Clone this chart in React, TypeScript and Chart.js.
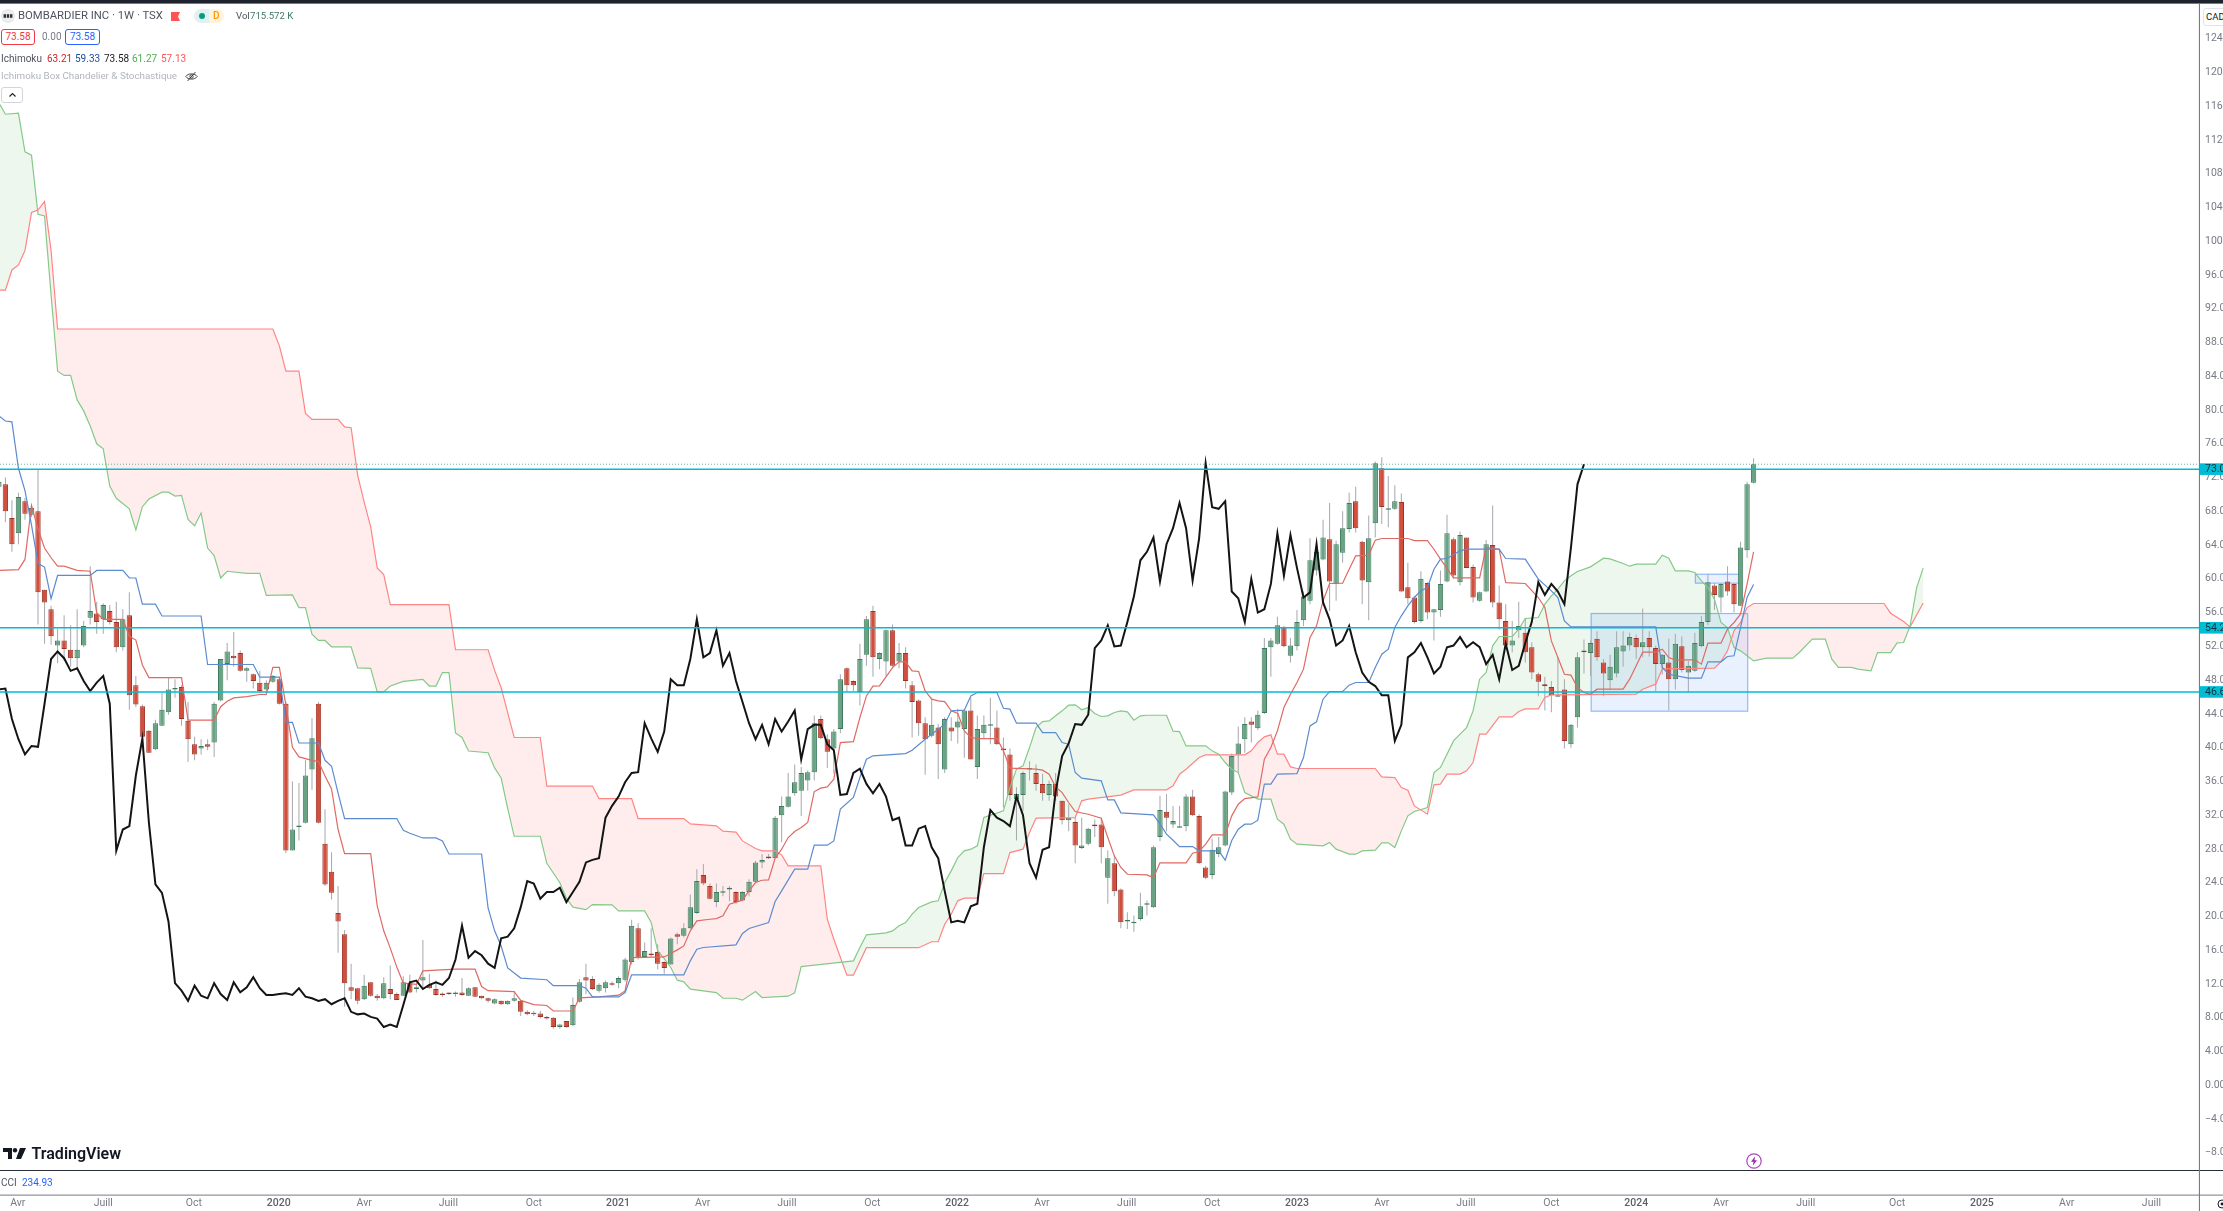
import React, { useEffect, useRef } from "react";
import { Chart, registerables } from "chart.js";

Chart.register(...registerables);

const firstBar = -1;
const opens = [70.9,
71.2,67.2,65.4,69.2,67.6,68.0,58.7,56.4,52.1,52.7,
51.6,50.6,52.1,55.4,55.9,55.2,56.2,54.9,51.9,55.7,
47.4,44.9,42.0,39.8,42.6,44.2,46.9,47.2,43.2,40.4,
39.9,40.4,40.6,45.6,49.9,50.9,51.2,49.1,48.7,47.7,
46.9,47.8,48.1,45.2,27.8,30.6,31.1,37.4,45.2,28.6,
25.3,20.4,17.9,11.6,11.5,10.2,12.2,10.6,10.3,11.4,
10.8,10.6,12.1,11.4,12.4,11.9,11.4,10.8,10.9,10.8,
11.0,10.6,11.6,10.6,10.3,9.7,10.0,9.6,10.0,10.0,
8.7,8.4,8.5,8.1,8.0,6.9,7.6,7.1,9.9,12.8,
12.6,11.2,11.5,12.1,12.1,12.5,14.6,18.6,15.2,15.6,
15.8,14.6,14.3,17.9,17.7,18.6,20.4,24.9,23.6,21.7,
22.8,23.2,22.9,21.9,22.9,24.1,26.4,27.1,26.9,32.0,
33.0,34.6,34.9,36.1,37.1,43.4,41.0,39.9,42.2,49.4,
47.9,46.6,51.0,56.2,50.5,50.2,53.9,50.2,51.2,47.4,
45.6,42.9,41.4,42.4,37.4,42.4,42.4,42.2,44.4,37.7,
41.7,42.6,42.4,39.9,39.2,33.9,34.4,37.4,37.0,35.7,
34.4,35.7,33.7,31.4,31.2,28.1,28.6,30.9,30.9,24.6,
26.3,23.2,19.4,19.2,19.7,21.4,21.1,29.4,32.4,30.9,
30.5,30.7,34.2,31.9,25.8,24.9,27.4,28.4,34.7,39.2,
41.0,43.1,42.3,44.1,51.9,52.3,54.3,50.9,52.0,55.1,
57.4,61.0,62.3,64.7,59.4,63.1,65.9,69.2,64.4,59.6,
66.6,73.1,68.2,68.3,69.1,59.0,57.8,55.0,59.5,56.0,
56.3,59.7,64.7,59.6,64.9,61.4,57.4,58.5,64.0,57.2,
55.0,52.1,53.9,53.6,51.9,48.7,47.5,47.2,46.2,46.9,
40.4,43.6,51.5,51.2,52.9,50.1,48.0,48.8,51.4,52.1,
53.0,51.9,53.0,51.8,49.9,50.1,48.1,52.0,48.9,49.1,
52.0,54.9,59.2,57.8,59.7,59.4,56.8,63.4,71.4];

const highs = [72.0,
72.0,69.3,70.2,69.6,68.7,73.0,58.7,56.8,54.1,55.7,
54.5,56.4,55.0,61.5,57.3,57.1,56.9,57.3,56.4,58.4,
48.5,45.1,42.1,43.3,46.5,48.3,48.1,47.4,45.4,41.3,
41.0,41.0,45.4,50.5,52.4,53.7,51.5,49.6,48.8,49.1,
48.0,48.6,48.3,45.4,36.0,35.8,38.5,43.5,45.4,32.7,
27.6,23.6,18.4,14.4,11.5,13.1,12.2,10.8,12.8,14.2,
11.0,12.9,13.1,12.0,17.2,13.2,12.4,11.0,11.0,11.1,
12.7,11.6,11.6,10.6,10.4,10.3,10.05,10.05,11.0,10.0,
8.9,8.8,8.8,8.2,8.1,7.3,7.6,10.4,12.6,14.4,
12.9,12.1,12.4,12.3,12.9,15.1,19.6,19.2,16.9,18.6,
16.7,14.7,17.5,18.1,19.2,22.6,25.6,26.2,23.9,23.9,
23.6,23.6,23.0,23.0,24.4,26.6,27.4,27.4,31.9,34.2,
37.0,38.0,37.7,37.3,43.8,43.8,41.6,42.2,48.7,49.5,
48.0,52.3,55.6,56.8,51.3,54.0,54.6,52.4,51.9,47.9,
45.7,43.6,45.9,42.8,43.6,43.6,44.6,44.6,45.9,43.8,
43.8,45.9,44.4,41.2,39.9,35.3,37.2,38.4,38.0,36.9,
36.1,37.0,33.7,33.3,31.7,31.7,30.5,31.5,31.7,27.8,
27.2,23.3,20.5,20.1,22.8,21.9,28.4,34.3,34.5,33.1,
33.1,34.5,35.0,32.1,26.0,29.2,29.4,34.9,39.3,42.5,
43.6,43.6,44.4,53.0,53.0,55.5,54.4,53.0,56.3,58.5,
64.8,64.3,67.0,69.0,64.5,68.0,70.2,70.9,64.5,67.5,
73.9,74.4,72.2,71.1,70.1,61.9,58.0,60.9,59.6,56.4,
61.0,67.6,64.9,65.6,64.9,61.7,58.5,64.6,68.7,59.2,
57.0,55.0,57.3,55.4,52.5,48.9,48.4,47.9,50.7,48.1,
42.8,51.3,52.8,52.7,53.8,50.5,51.0,53.8,53.8,53.6,
53.4,56.5,53.8,52.1,51.1,52.9,53.5,53.2,50.3,53.6,
55.6,60.6,59.5,59.5,61.5,59.5,64.4,71.5,74.3];

const lows = [70.7,
66.7,63.2,64.1,67.0,67.3,54.6,52.3,52.2,50.0,50.3,
49.6,49.4,51.9,54.6,53.5,53.5,54.6,51.3,51.5,44.5,
44.8,41.2,39.4,39.7,42.6,43.9,45.9,42.6,38.3,38.5,
39.2,39.7,38.9,45.5,48.0,49.6,49.0,47.8,47.0,46.5,
46.4,47.7,45.1,27.5,27.8,29.0,31.0,35.0,31.0,23.6,
22.0,15.7,9.3,10.2,9.6,10.1,10.5,10.0,10.2,10.2,
10.1,10.6,10.9,11.0,11.4,11.4,10.6,10.5,10.7,10.5,
10.6,10.6,10.5,10.2,9.8,9.6,9.5,9.5,9.9,8.2,
8.3,8.2,7.9,7.8,6.7,6.7,6.8,7.0,9.8,10.8,
11.3,11.0,11.0,11.8,11.5,12.3,14.3,14.9,15.1,15.2,
13.7,13.2,14.3,16.7,17.5,18.5,20.3,23.7,22.0,21.1,
22.4,21.8,21.5,21.8,22.4,24.0,25.7,26.8,26.9,28.8,
32.9,34.3,31.9,34.9,36.1,41.0,37.6,36.9,41.7,46.6,
46.7,45.0,49.7,48.4,49.3,48.5,49.6,49.4,47.0,41.2,
41.4,36.8,41.2,36.3,37.0,40.8,40.5,38.8,38.6,36.3,
41.1,40.4,40.3,32.9,33.7,29.0,32.5,36.1,34.9,33.7,
33.7,33.7,30.9,30.1,26.3,28.0,28.4,29.4,26.3,21.5,
22.4,18.6,18.5,18.2,19.5,20.1,21.0,28.9,30.1,30.5,
30.5,30.1,31.9,26.2,24.4,24.4,27.0,28.3,34.4,37.1,
39.4,40.6,42.1,44.0,48.4,52.2,51.9,50.1,51.5,54.4,
57.0,60.4,62.2,56.2,57.4,61.9,65.5,65.5,57.0,55.1,
64.9,66.5,66.1,68.2,58.4,57.0,54.7,54.8,55.2,52.7,
55.5,59.6,60.0,59.2,61.3,57.2,57.3,58.4,56.6,54.0,
51.9,51.3,53.0,50.1,48.1,46.1,44.4,44.2,46.1,39.9,
40.0,42.4,48.8,48.5,50.3,46.1,46.9,48.3,49.6,51.5,
50.5,50.7,50.8,46.7,48.7,44.4,46.9,48.9,46.6,49.0,
51.9,54.5,56.3,56.0,58.0,56.0,56.8,62.5,71.3];

const closes = [71.5,
68.0,64.1,69.7,67.7,68.4,58.4,57.2,53.2,52.7,51.7,
50.6,51.6,54.4,56.2,54.9,56.9,54.9,51.9,55.2,46.2,
45.1,41.3,39.4,42.9,44.5,46.9,47.0,43.4,41.0,39.2,
40.2,40.1,45.2,50.5,51.4,50.6,49.1,49.4,47.9,46.7,
47.7,48.5,45.2,27.8,30.3,30.7,36.7,41.1,31.1,23.8,
22.8,19.4,12.1,11.2,10.0,11.8,10.6,10.3,12.1,10.8,
10.1,12.2,11.0,11.6,12.8,11.5,10.7,10.7,10.8,10.9,
10.7,11.5,10.5,10.3,10.0,10.2,9.6,10.0,10.3,8.7,
8.4,8.5,8.1,7.9,6.9,7.2,6.9,9.5,12.2,12.4,
11.4,11.9,12.2,11.9,12.7,14.9,18.9,15.1,15.9,15.4,
14.4,13.9,17.4,17.6,18.6,21.1,24.2,23.9,22.1,22.9,
22.9,23.4,21.7,22.9,24.1,26.4,26.7,26.9,31.7,33.1,
34.2,35.9,37.0,37.1,42.9,41.1,39.5,41.9,48.1,47.4,
47.4,50.5,55.2,50.7,51.2,53.9,49.7,51.2,47.9,45.4,
42.9,41.0,42.7,40.4,43.4,41.9,43.1,44.4,38.6,42.2,
42.7,42.7,40.4,39.7,34.4,34.5,37.0,37.5,35.7,34.6,
35.7,34.2,31.4,31.7,28.4,28.4,30.4,30.7,28.2,26.9,
23.0,19.3,19.5,19.3,21.2,21.5,28.2,32.6,31.7,31.3,
30.7,34.2,32.0,26.3,24.6,27.9,28.2,34.8,39.0,40.5,
42.8,42.7,43.9,51.8,52.7,54.5,52.0,52.1,54.9,57.9,
62.2,63.2,64.9,59.7,64.1,66.0,69.0,66.0,59.8,64.8,
73.7,68.5,68.3,69.2,58.5,57.7,54.9,60.0,56.0,56.4,
59.4,65.4,60.4,65.2,61.3,57.8,58.4,64.1,57.2,55.2,
52.1,52.7,54.4,51.3,48.9,47.8,47.3,46.2,46.2,40.8,
42.7,50.7,51.3,52.4,50.7,48.8,49.6,51.9,52.1,53.1,
51.9,52.5,51.9,49.9,51.0,48.1,52.3,49.2,49.7,52.4,
54.9,59.6,58.1,59.4,58.5,57.0,63.7,71.2,73.58];

const chikouShift = 26;

const spanA: number[][] = [[-0.83,116.2],[0,115.05],[2,115.17],[3,110.6],[4,110.2],[5,103.2],[6,103.0],[7,93.7],[8,84.6],[9,84.1],[10,84.1],[11,81.2],[12,79.9],[13,78.1],[14,76.0],[15,75.4],[16,71.0],[17,69.55],[19,68.3],[20,65.8],[21,68.55],[22,69.45],[24,70.27],[25,70.27],[26,69.8],[27,69.9],[28,67.05],[29,66.3],[30,67.8],[31,63.65],[32,62.75],[33,60.1],[34,60.9],[37,60.65],[39,60.65],[40,58.05],[44,58.1],[45,56.6],[46,56.6],[47,53.45],[48,52.7],[49,52.7],[50,51.95],[53,51.95],[54,49.45],[56,49.4],[57,46.6],[58,46.6],[59,47.3],[61,47.85],[64,48.1],[65,47.3],[66,47.3],[67,48.9],[68,48.9],[69,41.75],[70,41.2],[71,39.6],[74,39.4],[75,37.6],[76,36.4],[77,32.8],[78,29.5],[82,29.5],[83,26.3],[85,24.0],[86,22.15],[87,21.1],[89,20.8],[90,21.4],[93,21.37],[94,20.66],[98,20.66],[99,19.28],[100,15.92],[101,15.0],[102,13.95],[103,12.45],[104,12.25],[105,11.38],[109,10.98],[110,10.31],[112,10.31],[113,10.08],[115,11.1],[116,10.39],[120,10.55],[121,10.95],[122,14.06],[123,14.15],[130,14.74],[131,16.32],[132,17.82],[135,18.05],[136,18.29],[137,18.89],[138,19.28],[139,20.27],[140,21.06],[142,21.73],[143,21.85],[144,24.02],[145,25.4],[146,26.98],[147,27.77],[148,27.97],[149,28.36],[150,31.72],[153,32.51],[154,35.27],[155,37.45],[156,37.84],[157,40.01],[158,42.38],[159,43.09],[160,43.17],[161,43.77],[162,44.36],[163,45.03],[164,45.07],[165,44.48],[166,44.75],[167,44.04],[168,43.69],[169,43.77],[170,44.16],[171,44.36],[172,44.24],[173,43.25],[174,43.77],[175,43.84],[178,43.84],[179,41.95],[180,41.91],[181,40.21],[184,40.21],[185,39.62],[186,39.23],[187,38.24],[188,37.45],[189,37.05],[190,34.68],[191,34.29],[192,33.89],[194,33.89],[195,31.53],[196,30.93],[197,29.15],[198,28.56],[202,28.37],[203,28.76],[204,27.97],[206,27.38],[207,27.38],[208,27.77],[210,27.85],[211,28.72],[212,28.72],[213,28.17],[214,30.14],[215,31.92],[216,32.43],[218,32.91],[219,37.05],[220,37.65],[222,40.8],[223,41.6],[224,42.38],[225,44.36],[226,48.11],[227,48.9],[228,52.06],[229,53.17],[231,53.17],[232,54.04],[233,55.3],[235,55.42],[236,57.0],[237,57.99],[238,58.78],[239,59.76],[240,60.36],[241,60.87],[243,61.42],[244,61.93],[245,62.45],[246,62.37],[248,61.82],[249,61.5],[250,61.74],[253,61.74],[254,62.8],[255,62.45],[256,60.95],[258,60.95],[259,60.75],[260,59.76],[261,58.97],[262,57.59],[263,54.83],[264,54.23],[265,51.86],[266,51.47],[267,50.88],[268,50.28],[270,50.6],[274,50.6],[275,51.27],[277,52.85],[279,52.85],[280,50.48],[281,49.5],[283,49.5],[284,49.3],[286,49.1],[287,51.27],[289,51.27],[290,52.42],[291,52.46],[292,54.43],[293,58.97],[294,61.27]];

const spanB: number[][] = [[-0.83,94.2],[0,94.2],[1,96.6],[2,97.2],[3,98.9],[4,103.4],[5,103.7],[6,104.7],[7,98.9],[8,89.6],[41,89.6],[42,87.6],[43,84.6],[45,84.6],[46,79.6],[47,78.9],[51,78.9],[52,78.0],[53,77.9],[54,72.3],[55,69.1],[56,66.15],[57,61.3],[58,60.5],[59,56.95],[68,56.95],[69,51.6],[74,51.6],[75,49.15],[76,47.1],[77,44.15],[78,41.2],[82,41.2],[83,35.45],[90,35.45],[91,33.97],[96,33.97],[97,31.6],[104,31.6],[105,30.97],[109,30.73],[110,30.1],[112,30.0],[113,28.95],[115,28.05],[116,27.77],[118,27.77],[119,27.3],[120,26.0],[125,26.0],[126,19.67],[127,17.3],[129,13.04],[130,13.04],[132,16.3],[140,16.3],[142,17.0],[143,17.0],[144,19.08],[145,20.27],[146,21.85],[147,22.16],[149,22.16],[150,25.08],[153,25.08],[154,27.57],[156,27.97],[157,29.94],[158,31.64],[164,31.72],[165,33.7],[166,33.9],[171,34.37],[173,35.0],[178,35.0],[179,35.47],[180,36.85],[181,37.45],[183,38.83],[184,39.15],[190,39.15],[191,39.62],[192,40.61],[193,41.28],[194,41.52],[195,39.23],[196,39.23],[197,37.72],[198,37.53],[210,37.53],[211,36.54],[213,36.46],[214,35.28],[215,34.96],[216,33.1],[218,32.12],[219,35.59],[220,35.67],[221,36.86],[223,36.86],[224,37.25],[225,38.24],[226,41.6],[227,41.6],[229,43.65],[231,43.65],[232,44.28],[233,44.6],[235,44.6],[236,45.94],[237,46.25],[250,46.33],[251,46.93],[253,47.52],[254,49.33],[262,49.42],[263,50.2],[264,51.47],[265,53.84],[266,54.83],[267,56.6],[268,57.08],[288,57.08],[289,55.93],[291,54.95],[292,54.31],[294,57.13]];

const tenkan: number[][] = [[-1,61.0],[2,61.1],[3,62.3],[4,68.7],[5,65.9],[6,63.65],[7,62.5],[8,61.5],[9,61.5],[11,61.0],[13,60.9],[14,55.95],[15,55.2],[18,55.2],[19,53.2],[20,52.75],[21,49.8],[22,48.3],[27,48.3],[28,43.25],[32,43.25],[33,44.85],[34,45.5],[35,45.9],[37,46.05],[39,46.3],[40,46.3],[41,49.5],[42,49.5],[43,45.05],[44,40.05],[45,38.9],[47,38.5],[48,38.35],[49,36.65],[50,35.1],[51,30.3],[52,27.45],[56,27.45],[57,21.25],[58,18.3],[59,16.25],[60,14.0],[61,12.1],[63,11.95],[64,13.55],[69,13.75],[72,13.75],[73,11.7],[74,11.2],[78,11.1],[79,10.05],[81,9.55],[83,9.45],[84,8.8],[87,8.8],[88,10.35],[91,10.47],[94,10.67],[95,11.18],[96,15.13],[101,15.2],[102,15.6],[103,16.04],[104,16.51],[105,18.29],[106,19.48],[108,19.67],[109,19.75],[110,20.07],[111,21.45],[113,21.93],[114,23.03],[115,24.02],[116,24.29],[117,24.33],[118,26.9],[119,27.97],[120,29.35],[121,30.06],[122,30.53],[123,31.13],[124,34.8],[125,35.2],[126,35.35],[127,36.26],[128,40.6],[130,40.72],[131,43.57],[132,46.13],[133,47.28],[134,47.32],[135,48.39],[136,49.49],[137,50.16],[138,50.16],[139,49.1],[140,49.02],[141,46.73],[142,45.74],[143,45.54],[144,45.46],[145,44.36],[146,44.04],[147,41.99],[148,41.2],[149,41.08],[152,41.08],[153,39.62],[154,37.57],[158,37.45],[159,37.33],[160,36.86],[161,35.35],[162,34.68],[163,33.5],[164,32.43],[166,32.11],[168,31.64],[169,29.35],[170,27.18],[171,25.8],[172,25.0],[175,24.93],[176,24.6],[177,26.35],[181,26.35],[182,27.5],[183,27.7],[184,28.56],[185,29.67],[187,29.67],[188,31.92],[189,33.3],[190,33.97],[192,34.17],[193,38.63],[194,40.02],[195,41.99],[196,44.75],[197,46.33],[198,47.72],[199,49.3],[200,53.05],[201,54.43],[202,57.39],[203,59.45],[205,59.49],[206,61.14],[207,62.72],[209,62.8],[210,64.58],[211,64.78],[215,64.78],[216,64.54],[218,64.54],[219,63.51],[220,62.33],[222,60.12],[226,60.12],[227,63.71],[229,63.51],[230,59.56],[233,59.45],[235,57.79],[236,56.6],[237,52.65],[238,50.68],[239,48.7],[240,48.59],[241,47.13],[242,46.53],[243,46.33],[244,46.93],[248,46.93],[249,48.11],[250,49.7],[251,51.31],[253,51.31],[254,51.67],[255,50.68],[256,50.4],[259,50.4],[260,49.89],[261,52.38],[263,52.38],[264,54.04],[265,54.83],[266,55.81],[267,59.37],[268,63.21]];

const kijun: number[][] = [[-1,79.3],[0,78.7],[1,78.6],[2,73.1],[3,70.45],[4,66.4],[5,61.8],[6,61.4],[7,57.65],[8,60.4],[13,60.4],[14,61.0],[18,61.0],[19,60.1],[20,60.1],[21,57.0],[23,57.0],[24,55.6],[30,55.6],[31,49.85],[38,49.85],[39,48.35],[42,48.35],[43,43.0],[44,43.0],[45,40.55],[48,40.55],[49,38.5],[50,37.8],[51,34.6],[52,31.6],[60,31.6],[61,30.2],[62,29.85],[64,29.3],[66,29.3],[67,28.95],[68,27.4],[73,27.4],[74,21.0],[75,18.3],[76,16.5],[77,13.9],[79,12.7],[83,12.5],[84,11.8],[88,11.8],[89,11.5],[90,10.47],[94,10.47],[95,10.98],[96,13.08],[104,13.08],[105,14.74],[106,16.12],[107,16.32],[112,16.63],[113,17.98],[114,18.57],[117,19.28],[118,21.77],[119,23.03],[121,25.6],[123,25.6],[124,28.44],[126,28.44],[127,28.95],[128,32.71],[130,34.09],[131,36.46],[132,38.63],[133,39.03],[138,39.3],[139,39.7],[141,41.0],[144,42.78],[145,44.36],[147,44.44],[148,46.13],[149,46.53],[152,46.53],[153,44.67],[154,44.56],[155,42.9],[158,42.9],[159,41.79],[161,41.79],[162,40.6],[163,40.41],[164,37.05],[165,36.38],[168,36.06],[169,33.81],[170,33.81],[171,32.27],[176,32.04],[177,30.93],[178,29.75],[179,29.03],[180,28.28],[182,28.28],[183,27.77],[186,27.77],[187,26.67],[188,29.0],[189,30.34],[190,30.93],[191,30.93],[192,31.41],[193,35.67],[194,35.67],[195,36.86],[198,36.93],[199,38.83],[200,42.58],[201,43.06],[202,45.74],[203,46.65],[205,46.65],[206,47.4],[207,47.72],[209,47.72],[210,49.5],[211,51.07],[212,51.67],[213,54.23],[214,55.62],[215,56.8],[216,57.79],[217,58.58],[218,58.97],[219,61.14],[220,62.33],[221,62.41],[223,63.32],[224,63.51],[229,63.51],[230,62.41],[233,62.33],[235,59.96],[237,58.58],[238,57.79],[239,55.02],[240,54.31],[253,54.31],[254,49.5],[255,48.7],[258,48.23],[260,48.23],[261,50.17],[263,50.17],[264,50.8],[265,50.88],[266,54.23],[267,57.79],[268,59.33]];

const yTickValues = [124,120,116,112,108,104,100,96,92,88,84,80,76,72,68,64,60,56,52,48,44,40,36,32,28,24,20,16,12,8,4,0,-4,-8];
const xTickIndex = [1.9,15,28.9,41.9,55,67.9,81,93.9,106.9,119.8,132.9,145.9,158.9,171.9,185,198,211,223.9,237,250,263,276,290,303,316,329];
const xTickLabels = ["Avr","Juill","Oct","2020","Avr","Juill","Oct","2021","Avr","Juill","Oct","2022","Avr","Juill","Oct","2023","Avr","Juill","Oct","2024","Avr","Juill","Oct","2025","Avr","Juill"];
const levelValues = [73.0, 54.2, 46.6];
const levelLabels = ["73.00", "54.20", "46.60"];
const lastPrice = 73.58;
const boxes = [
  { from: 243.1, to: 267.1, top: 55.89, bottom: 44.32 },
  { from: 259.07, to: 266, top: 60.55, bottom: 59.49 },
];

const FONT = "Roboto, 'Liberation Sans', sans-serif";
const UP_FILL = "#6aa384";
const UP_EDGE = "#3b7a5c";
const DOWN_FILL = "#d24f3e";
const DOWN_EDGE = "#9c3326";
const CYAN = "#00bcd4";

const toPoints = (pairs: number[][]) => pairs.map(([x, y]) => ({ x, y }));

const paneDecor = {
  id: "paneDecor",
  beforeDatasetsDraw(chart: any) {
    const { ctx, scales } = chart;
    const { x, y } = scales;
    ctx.save();
    boxes.forEach((b) => {
      const l = x.getPixelForValue(b.from);
      const r = x.getPixelForValue(b.to);
      const t = y.getPixelForValue(b.top);
      const h = y.getPixelForValue(b.bottom) - t;
      ctx.fillStyle = "rgba(41,121,255,0.1)";
      ctx.fillRect(l, t, r - l, h);
      ctx.strokeStyle = "rgba(66,133,244,0.55)";
      ctx.lineWidth = 1.2;
      ctx.strokeRect(l, t, r - l, h);
    });
    ctx.restore();
  },
  afterDatasetsDraw(chart: any) {
    const { ctx, scales, chartArea } = chart;
    const { y } = scales;
    ctx.save();
    const py = y.getPixelForValue(lastPrice);
    ctx.setLineDash([1, 2]);
    ctx.strokeStyle = "rgba(38,140,110,0.65)";
    ctx.lineWidth = 1;
    ctx.beginPath();
    ctx.moveTo(0, py);
    ctx.lineTo(chartArea.right, py);
    ctx.stroke();
    ctx.setLineDash([]);
    levelValues.forEach((v) => {
      const p = y.getPixelForValue(v);
      ctx.strokeStyle = CYAN;
      ctx.lineWidth = 1.5;
      ctx.beginPath();
      ctx.moveTo(0, p);
      ctx.lineTo(chartArea.right, p);
      ctx.stroke();
    });
    ctx.restore();
  },
  afterDraw(chart: any) {
    const { ctx, scales, chartArea, width, height } = chart;
    const { y } = scales;
    ctx.save();
    ctx.textBaseline = "middle";
    ctx.textAlign = "left";
    ctx.font = `10.5px ${FONT}`;
    levelValues.forEach((v, i) => {
      const p = y.getPixelForValue(v);
      ctx.fillStyle = CYAN;
      ctx.fillRect(chartArea.right, p - 5.8, width - chartArea.right, 11.6);
      ctx.fillStyle = "#10343a";
      ctx.fillText(levelLabels[i], chartArea.right + 5.5, p + 0.5);
    });
    ctx.fillStyle = "#1e222d";
    ctx.fillRect(0, 0, width, 3.6);
    ctx.fillStyle = "#2a2e39";
    ctx.fillRect(0, chartArea.bottom - 1, width, 1);
    ctx.fillStyle = "#787b86";
    ctx.fillRect(0, 1194.6, width, 1);
    ctx.fillRect(chartArea.right - 0.6, 3.6, 1.1, height);
    ctx.restore();
  },
};

const clearScalePadding = (s: any) => {
  s.paddingLeft = 0;
  s.paddingRight = 0;
  s.paddingTop = 0;
  s.paddingBottom = 0;
  s._margins = { left: 0, right: 0, top: 0, bottom: 0 };
};

function Txt({ x, y, c, s = 10, w = 400, children }: any) {
  return (
    <span
      style={{
        position: "absolute",
        left: x,
        top: y,
        transform: "translateY(-50%)",
        color: c,
        fontSize: s,
        fontWeight: w,
        fontFamily: FONT,
        whiteSpace: "nowrap",
        lineHeight: 1,
      }}
    >
      {children}
    </span>
  );
}

function Frame({ x, y, w, h, border, children }: any) {
  return (
    <div
      style={{
        position: "absolute",
        left: x,
        top: y,
        width: w,
        height: h,
        boxSizing: "border-box",
        border: `1.2px solid ${border}`,
        borderRadius: 3,
        background: "#fff",
        display: "flex",
        alignItems: "center",
        justifyContent: "center",
        fontFamily: FONT,
        fontSize: 10,
        lineHeight: 1,
      }}
    >
      {children}
    </div>
  );
}

export default function App() {
  const ref = useRef<HTMLCanvasElement | null>(null);

  useEffect(() => {
    if (!ref.current) return;
    const bars = closes.map((_, i) => i + firstBar);
    const chart = new Chart(ref.current, {
      type: "bar",
      data: {
        datasets: [
          {
            type: "bar",
            label: "Mèches",
            order: 6,
            data: bars.map((x, i) => ({ x, y: [lows[i], highs[i]] })),
            backgroundColor: "#a9abb1",
            barPercentage: 0.16,
            categoryPercentage: 1,
            grouped: false,
          },
          {
            type: "bar",
            label: "Bombardier",
            order: 5,
            data: bars.map((x, i) => ({ x, y: [opens[i], closes[i]] })),
            backgroundColor: closes.map((c, i) => (c >= opens[i] ? UP_FILL : DOWN_FILL)),
            borderColor: closes.map((c, i) => (c >= opens[i] ? UP_EDGE : DOWN_EDGE)),
            borderWidth: 1,
            borderSkipped: false,
            barPercentage: 0.82,
            categoryPercentage: 1,
            minBarLength: 1.5,
            grouped: false,
          },
          {
            type: "line",
            label: "Senkou A",
            order: 4,
            data: toPoints(spanA),
            borderColor: "#85c988",
            borderWidth: 1.2,
            pointRadius: 0,
            tension: 0,
            fill: { target: 3, above: "rgba(76,175,80,0.1)", below: "rgba(255,82,82,0.1)" },
          },
          {
            type: "line",
            label: "Senkou B",
            order: 4,
            data: toPoints(spanB),
            borderColor: "#ff8585",
            borderWidth: 1.2,
            pointRadius: 0,
            tension: 0,
          },
          {
            type: "line",
            label: "Tenkan",
            order: 3,
            data: toPoints(tenkan),
            borderColor: "#df6a63",
            borderWidth: 1.2,
            pointRadius: 0,
            tension: 0,
          },
          {
            type: "line",
            label: "Kijun",
            order: 2,
            data: toPoints(kijun),
            borderColor: "#5c8bd0",
            borderWidth: 1.2,
            pointRadius: 0,
            tension: 0,
          },
          {
            type: "line",
            label: "Chikou",
            order: 1,
            data: closes.map((y, i) => ({ x: i + firstBar - chikouShift, y })),
            borderColor: "#141414",
            borderWidth: 2,
            pointRadius: 0,
            tension: 0,
          },
        ] as any,
      },
      plugins: [paneDecor],
      options: {
        animation: false,
        responsive: false,
        devicePixelRatio: 1,
        layout: { padding: { top: 4, left: 0, right: 0, bottom: 0 }, autoPadding: false },
        plugins: {
          legend: { display: false },
          tooltip: { enabled: false },
          filler: { drawTime: "beforeDatasetsDraw" },
        },
        scales: {
          x: {
            type: "linear",
            min: -0.828,
            max: 336.36,
            offset: false,
            grid: { display: false, offset: false, drawTicks: true, tickLength: 26.5 },
            border: { display: false },
            afterBuildTicks: (s: any) => {
              s.ticks = xTickIndex.map((value) => ({ value }));
            },
            afterFit: (s: any) => {
              s.height = 40;
              clearScalePadding(s);
            },
            ticks: {
              autoSkip: false,
              maxRotation: 0,
              minRotation: 0,
              padding: 0,
              font: (c: any) => ({
                family: FONT,
                size: 10.5,
                weight: /^\d/.test(xTickLabels[c.index] || "") ? "500" : "400",
              }),
              color: (c: any) => (/^\d/.test(xTickLabels[c.index] || "") ? "#5d606b" : "#787b86"),
              callback: (_v: any, i: number) => xTickLabels[i],
            },
          },
          y: {
            type: "linear",
            position: "right",
            min: -10.16,
            max: 128.11,
            grid: { display: false, drawTicks: true, tickLength: 5.5 },
            border: { display: false },
            afterBuildTicks: (s: any) => {
              s.ticks = yTickValues.map((value) => ({ value }));
            },
            afterFit: (s: any) => {
              s.width = 23.5;
              clearScalePadding(s);
            },
            ticks: {
              autoSkip: false,
              padding: 0,
              color: "#787b86",
              font: { family: FONT, size: 10.5 },
              callback: (v: any) => (v < 0 ? "\u2212" + Math.abs(v).toFixed(2) : Number(v).toFixed(2)),
            },
          },
        },
      } as any,
    });
    return () => chart.destroy();
  }, []);

  return (
    <div
      style={{
        position: "absolute",
        left: 0,
        top: 0,
        width: 2223,
        height: 1211,
        overflow: "hidden",
        background: "#fff",
      }}
    >
      <canvas ref={ref} width={2223} height={1211} style={{ display: "block", width: 2223, height: 1211 }} />

      <svg style={{ position: "absolute", left: 1, top: 9, width: 14, height: 14 }} viewBox="0 0 14 14">
        <circle cx="7" cy="7" r="6.5" fill="#eceef2" stroke="#d5d7dd" strokeWidth="0.6" />
        <rect x="2.6" y="5.2" width="2.4" height="3.6" fill="#333" />
        <rect x="5.8" y="5.2" width="2.4" height="3.6" fill="#333" />
        <rect x="9" y="5.2" width="2.4" height="3.6" fill="#333" />
      </svg>
      <Txt x={18} y={16} c="#50535e" s={11.3}>BOMBARDIER INC · 1W · TSX</Txt>
      <svg style={{ position: "absolute", left: 171, top: 12, width: 10, height: 9 }} viewBox="0 0 10 9">
        <path d="M0 0H9L7 4.5L9 9H0Z" fill="#ff5252" />
      </svg>
      <div style={{ position: "absolute", left: 194, top: 9, width: 15, height: 14, background: "#dff2ef", borderRadius: "7px 0 0 7px" }} />
      <div style={{ position: "absolute", left: 209, top: 9, width: 15, height: 14, background: "#fff3e0", borderRadius: "0 7px 7px 0" }} />
      <div style={{ position: "absolute", left: 199, top: 13, width: 6, height: 6, background: "#089981", borderRadius: 3 }} />
      <Txt x={213} y={16} c="#ff9800" w={500}>D</Txt>
      <Txt x={236} y={16} c="#50535e" s={9.6}>Vol</Txt>
      <Txt x={250} y={16} c="#3f7a63" s={9.6}>715.572 K</Txt>

      <Frame x={1} y={29} w={34} h={16} border="#f23645"><span style={{ color: "#f23645" }}>73.58</span></Frame>
      <Txt x={42} y={37} c="#787b86">0.00</Txt>
      <Frame x={65} y={29} w={35} h={16} border="#2962ff"><span style={{ color: "#2962ff" }}>73.58</span></Frame>

      <Txt x={1} y={59} c="#50535e">Ichimoku</Txt>
      <Txt x={47} y={59} c="#c62828">63.21</Txt>
      <Txt x={75} y={59} c="#1e4fa0">59.33</Txt>
      <Txt x={104} y={59} c="#222">73.58</Txt>
      <Txt x={132} y={59} c="#4caf50">61.27</Txt>
      <Txt x={161} y={59} c="#ff5252">57.13</Txt>

      <Txt x={1} y={76} c="#b2b5be" s={9.8}>Ichimoku Box Chandelier &amp; Stochastique</Txt>
      <svg style={{ position: "absolute", left: 185, top: 71, width: 13, height: 11 }} viewBox="0 0 13 11">
        <path d="M0.8 5.5C3 2 10 2 12.2 5.5C10 9 3 9 0.8 5.5Z" fill="none" stroke="#333" strokeWidth="0.9" />
        <circle cx="6.5" cy="5.5" r="1.7" fill="none" stroke="#333" strokeWidth="0.9" />
        <path d="M2.5 10L10.5 1" stroke="#333" strokeWidth="0.9" />
      </svg>

      <Frame x={1} y={87} w={22} h={16} border="#d1d4dc">
        <svg width="9" height="6" viewBox="0 0 9 6"><path d="M1.5 4.5L4.5 1.5L7.5 4.5" fill="none" stroke="#222" strokeWidth="1.2" /></svg>
      </Frame>

      <Frame x={2203} y={8} w={30} h={18} border="#e0e3eb"><span style={{ color: "#131722", position: "absolute", left: 2, fontSize: 9.5 }}>CAD</span></Frame>

      <svg style={{ position: "absolute", left: 3, top: 1148, width: 23, height: 11 }} viewBox="0 0 23 11">
        <path d="M0 0H9V11H5V4H0Z" fill="#131722" />
        <circle cx="12" cy="2.2" r="2.2" fill="#131722" />
        <path d="M17 0H23L18 11H13Z" fill="#131722" />
      </svg>
      <Txt x={31.5} y={1154} c="#131722" s={16} w={600}>TradingView</Txt>

      <Txt x={1} y={1183} c="#50535e">CCI</Txt>
      <Txt x={22} y={1183} c="#2962ff">234.93</Txt>

      <svg style={{ position: "absolute", left: 1746, top: 1153, width: 16, height: 16 }} viewBox="0 0 16 16">
        <circle cx="8" cy="8" r="7.2" fill="#fff" stroke="#ab47bc" strokeWidth="1.2" />
        <path d="M9.2 3.2L5 8.8H7.6L6.8 12.8L11 7.2H8.4Z" fill="#9c27b0" />
      </svg>
      <svg style={{ position: "absolute", left: 2215, top: 1198, width: 10, height: 12 }} viewBox="0 0 10 12">
        <circle cx="7" cy="6" r="4" fill="none" stroke="#131722" strokeWidth="1" />
        <circle cx="7" cy="6" r="1.4" fill="#131722" />
      </svg>
    </div>
  );
}
